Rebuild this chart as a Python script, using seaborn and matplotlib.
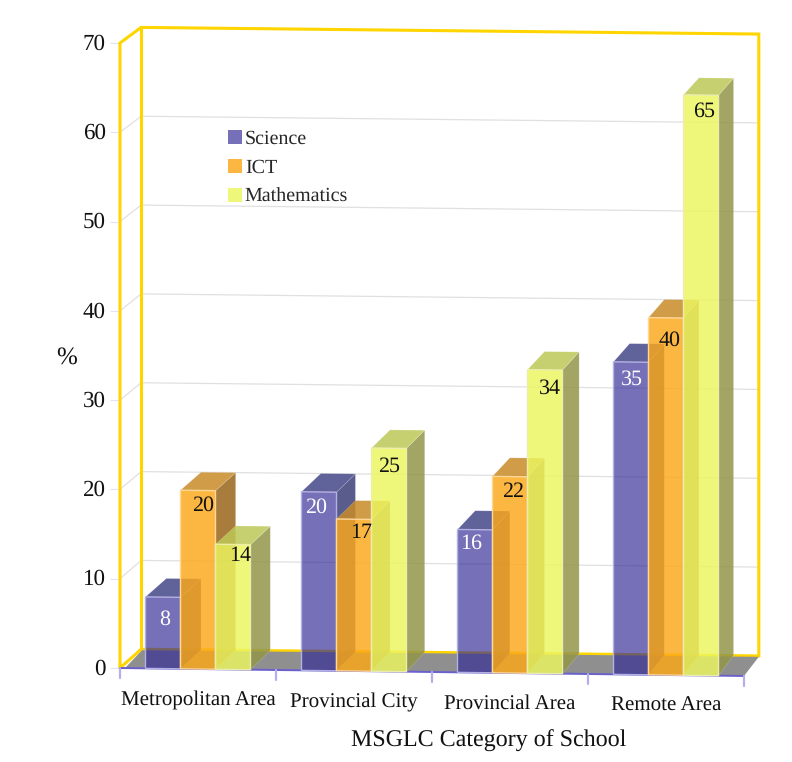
import matplotlib
matplotlib.use("Agg")
import matplotlib.pyplot as plt
import matplotlib.transforms as mtrans
from matplotlib.patches import Patch, Polygon
import pandas as pd
import seaborn as sns

categories = ["Metropolitan Area", "Provincial City", "Provincial Area", "Remote Area"]
science = [8, 20, 16, 35]
ict = [20, 17, 22, 40]
mathematics = [14, 25, 34, 65]
subjects = ["Science", "ICT", "Mathematics"]
y_ticks = [0, 10, 20, 30, 40, 50, 60, 70]

# pixel nudges for the value labels, one (dx, dy) per bar
label_nudge = {
    "Science": [(2, -22), (-3, -16), (-4, -14), (1, -17)],
    "ICT": [(5, -15), (7, -14), (3, -15), (4, -23)],
    "Mathematics": [(7, -11), (0, -18), (5, -19), (3, -16)],
}

# (colour, opacity) for the front, side and top of each subject's bars
front_rgb = {"Science": ((49, 42, 149), .67), "ICT": ((252, 168, 24), .82), "Mathematics": ((236, 246, 95), .83)}
side_rgb = {"Science": (61, 64, 120), "ICT": (153, 101, 26), "Mathematics": (147, 149, 74)}
top_rgb = {"Science": (68, 71, 136), "ICT": (200, 139, 40), "Mathematics": (190, 200, 87)}
edge_rgb = {"Science": (180, 176, 225), "ICT": (255, 215, 150), "Mathematics": (235, 238, 170)}
value_color = {"Science": "white", "ICT": "#111111", "Mathematics": "#111111"}


def rgb(c, a=1.0):
    return (c[0] / 255, c[1] / 255, c[2] / 255, a)


sns.set_theme(style="white")
plt.rcParams["font.family"] = ["Liberation Serif", "DejaVu Serif"]
plt.rcParams["text.hinting"] = "no_hinting"
plt.rcParams["text.hinting_factor"] = 1

W, H = 792, 762
fig = plt.figure(figsize=(W / 100, H / 100), dpi=100)
ax = fig.add_axes([120 / W, (H - 668) / H, 624 / W, 625 / H])

df = pd.DataFrame({
    "category": categories * 3,
    "subject": sum([[s] * 4 for s in subjects], []),
    "value": science + ict + mathematics,
})
palette = {s: rgb(front_rgb[s][0]) for s in subjects}
sns.barplot(data=df, x="category", y="value", hue="subject", order=categories,
            hue_order=subjects, palette=palette, width=0.673, gap=0, saturation=1,
            legend=False, ax=ax)

ax.set_xlim(-0.5, 3.5)
ax.set_ylim(0, 70)
for side in ax.spines.values():
    side.set_visible(False)

# the whole plot floor tilts gently downwards to the right
SLOPE = 0.2236
sheared = mtrans.Affine2D.from_values(1, -SLOPE, 0, 1, 0, -SLOPE * 0.5) + ax.transData


def to_back(x, y):
    """Project a point on the front plane onto the back plane of the box."""
    return x + (21.1 - 6.3 * (x + 0.5) / 4) / 156, y * 0.995 + 19 / 8.93 + 0.035 * (x + 0.5)


# back wall grid and side-wall diagonals
for v in y_ticks[1:-1]:
    x0, y0 = to_back(-0.5, v)
    x1, y1 = to_back(3.5, v)
    ax.plot([-0.5, x0, x1], [v, y0, y1], color="#e0e0e0", lw=0.9, transform=sheared,
            clip_on=False, zorder=1)

# grey floor
bl, br = to_back(-0.5, 0), to_back(3.5, 0)
ax.add_patch(Polygon([(-0.5 + 5 / 156, 0), (bl[0] + 1 / 156, bl[1] - 0.1), (br[0], br[1] - 0.1), (3.5, 0)],
                     closed=True, fc="#8f8f8f", ec="none", transform=sheared, clip_on=False, zorder=1.5))

# gold outline of the box
tl, tr = to_back(-0.5, 70), to_back(3.5, 70)
gold = dict(color="#ffd500", lw=2.2, transform=sheared, clip_on=False, zorder=1.2,
            solid_joinstyle="miter")
ax.plot([-0.5, -0.5, tl[0], tr[0], br[0], bl[0], -0.5],
        [0, 70, tl[1], tr[1], br[1], bl[1], 0], **gold)
ax.plot([tl[0], bl[0]], [tl[1], bl[1]], **gold)

# front floor edge and category ticks
ax.plot([-0.5, 3.5], [0, 0], color="#6a60cc", lw=1.4, transform=sheared, clip_on=False, zorder=1.6)
for i in range(5):
    ax.plot([i - 0.5, i - 0.5], [0, -10 / 8.93], color="#b4aef0", lw=1.6, transform=sheared,
            clip_on=False, zorder=1.6)

# extrude every bar: sheared front face plus translucent side and top
for k, (subject, bars) in enumerate(zip(subjects, ax.containers)):
    z = 3 + k
    color, alpha = front_rgb[subject]
    for i, bar in enumerate(bars):
        x0, x1 = bar.get_x(), bar.get_x() + bar.get_width()
        h = bar.get_height()
        b1, bt0, bt1 = to_back(x1, 0), to_back(x0, h), to_back(x1, h)
        ax.add_patch(Polygon([(x1, 0), (x1, h), bt1, b1], closed=True, fc=rgb(side_rgb[subject], .85),
                             ec=(1, 1, 1, .2), lw=0.5, transform=sheared, clip_on=False, zorder=z))
        ax.add_patch(Polygon([(x0, h), (x1, h), bt1, bt0], closed=True, fc=rgb(top_rgb[subject], .85),
                             ec=(1, 1, 1, .2), lw=0.5, transform=sheared, clip_on=False, zorder=z))
        bar.set_transform(sheared)
        bar.set_clip_on(False)
        bar.set_facecolor(rgb(color, alpha))
        bar.set_edgecolor(rgb(edge_rgb[subject]))
        bar.set_linewidth(1.0)
        bar.set_zorder(z + 0.5)
        ax.annotate(f"{h:.0f}", xy=(x0 + bar.get_width() / 2, h), xycoords=sheared,
                    xytext=label_nudge[subject][i], textcoords="offset pixels",
                    ha="center", va="center", fontsize=15.5, color=value_color[subject], zorder=10)

# category names follow the tilt of the floor
label_dx = [0, 0, 0, 0]
for i, name in enumerate(categories):
    ax.annotate(name, xy=(i, 0), xycoords=sheared, xytext=(label_dx[i], -31), textcoords="offset pixels",
                ha="center", va="center", fontsize=14.8, color="#111111", zorder=10)

ax.set_xticks([])
ax.set_yticks(y_ticks)
ax.tick_params(axis="y", left=True, length=7.2, width=0.8, color="#e4e2f8", pad=3,
               labelsize=16.5, labelcolor="#111111")
raise_labels = mtrans.ScaledTranslation(0, 1.5 / 100, fig.dpi_scale_trans)
for tick_label in ax.get_yticklabels():
    tick_label.set_transform(tick_label.get_transform() + raise_labels)
ax.set_xlabel("MSGLC Category of School", fontsize=17.3, color="#111111")
ax.xaxis.set_label_coords((488.5 - 120) / 624, -(741 - 668) / 625, transform=ax.transAxes)
ax.xaxis.label.set_va("center")
ax.set_ylabel("%", rotation=0, fontsize=18, color="#111111")
ax.yaxis.set_label_coords((67 - 120) / 624, (668 - 358) / 625, transform=ax.transAxes)
ax.yaxis.label.set_va("center")
ax.yaxis.label.set_ha("center")

handles = [Patch(fc=rgb(front_rgb[s][0], front_rgb[s][1]), ec="none", label=s) for s in subjects]
ax.legend(handles=handles, loc="upper left", bbox_to_anchor=(222 / W, 1 - 124 / H),
          bbox_transform=fig.transFigure, frameon=False, fontsize=14.1, handlelength=0.72,
          handleheight=0.72, handletextpad=0.15, labelspacing=0.55, borderpad=0.3, borderaxespad=0)

fig.savefig("out.png", dpi=100, facecolor="white")
